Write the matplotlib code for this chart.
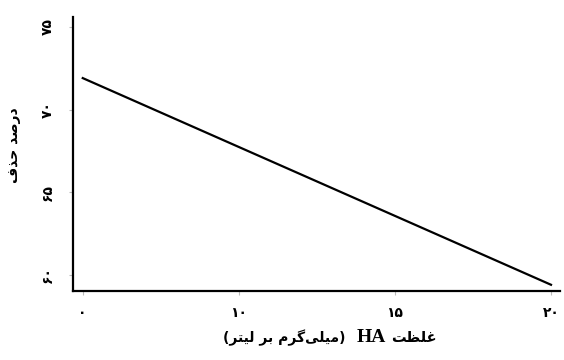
import matplotlib
matplotlib.use("Agg")
import matplotlib.pyplot as plt

# data
ha_conc = [5, 20]
removal = [71.9, 59.4]

x_ticks = [5, 10, 15, 20]
x_tick_labels = ["۰", "۱۰", "۱۵", "۲۰"]
y_ticks = [60, 65, 70, 75]
y_tick_labels = ["۶۰", "۶۵", "۷۰", "۷۵"]

y_title = "درصد حذف"
x_title_fa = "غلظت"
x_title_en = "HA"
x_title_unit = "میلی‌گرم بر لیتر"

# no bidi/reshaper available: tiny hand reshaper (iso, fin, ini, med)
FORMS = {
    "د": ("\uFEA9", "\uFEAA", None, None),
    "ذ": ("\uFEAB", "\uFEAC", None, None),
    "ر": ("\uFEAD", "\uFEAE", None, None),
    "ص": ("\uFEB9", "\uFEBA", "\uFEBB", "\uFEBC"),
    "ح": ("\uFEA1", "\uFEA2", "\uFEA3", "\uFEA4"),
    "ف": ("\uFED1", "\uFED2", "\uFED3", "\uFED4"),
    "غ": ("\uFECD", "\uFECE", "\uFECF", "\uFED0"),
    "ل": ("\uFEDD", "\uFEDE", "\uFEDF", "\uFEE0"),
    "ظ": ("\uFEC5", "\uFEC6", "\uFEC7", "\uFEC8"),
    "ت": ("\uFE95", "\uFE96", "\uFE97", "\uFE98"),
    "م": ("\uFEE1", "\uFEE2", "\uFEE3", "\uFEE4"),
    "ی": ("\uFBFC", "\uFBFD", "\uFBFE", "\uFBFF"),
    "گ": ("\uFB92", "\uFB93", "\uFB94", "\uFB95"),
    "ب": ("\uFE8F", "\uFE90", "\uFE91", "\uFE92"),
}


def dual(c):
    return c in FORMS and FORMS[c][2] is not None


def shape(text):
    out = []
    chars = list(text)
    for i, c in enumerate(chars):
        if c not in FORMS:
            if c != "\u200c":
                out.append(c)
            continue
        prev = chars[i - 1] if i > 0 else ""
        nxt = chars[i + 1] if i + 1 < len(chars) else ""
        join_prev = dual(prev)
        join_next = dual(c) and nxt in FORMS
        iso, fin, ini, med = FORMS[c]
        if join_prev and join_next:
            out.append(med)
        elif join_prev:
            out.append(fin)
        elif join_next:
            out.append(ini)
        else:
            out.append(iso)
    return "".join(reversed(out))


plt.rcParams["font.family"] = ["DejaVu Sans"]

fig = plt.figure(figsize=(5.64, 3.6), dpi=100)
ax = fig.add_axes([0.129, 0.192, 0.864, 0.761])

ax.plot(ha_conc, removal, color="black", linewidth=1.6)

ax.set_xlim(4.68, 20.29)
ax.set_ylim(59.03, 75.6)

ax.set_xticks(x_ticks)
ax.set_xticklabels(x_tick_labels, fontsize=10, fontweight="bold")
ax.set_yticks(y_ticks)
ax.set_yticklabels(y_tick_labels, fontsize=10, fontweight="bold", rotation=90, va="center")
ax.tick_params(axis="both", length=3, width=0.8, color="#bbbbbb")
ax.tick_params(axis="x", pad=8)
ax.tick_params(axis="y", pad=10)

for side in ["top", "right"]:
    ax.spines[side].set_visible(False)
for side in ["left", "bottom"]:
    ax.spines[side].set_linewidth(1.6)

fig.text(0.025, 0.597, shape(y_title), rotation=90, ha="center", va="center",
         fontsize=10, fontweight="bold")

# x title in three pieces, right to left: farsi word, HA, unit in brackets
ty = 0.062
fig.text(0.693, ty, shape(x_title_fa), ha="left", va="center", fontsize=10.5,
         fontweight="bold")
fig.text(0.684, ty, x_title_en, ha="right", va="center", fontsize=14, fontweight="bold",
         family="Liberation Serif")
fig.text(0.612, ty, "(" + shape(x_title_unit) + ")", ha="right", va="center",
         fontsize=10, fontweight="bold")

fig.savefig("out.png", dpi=100)
